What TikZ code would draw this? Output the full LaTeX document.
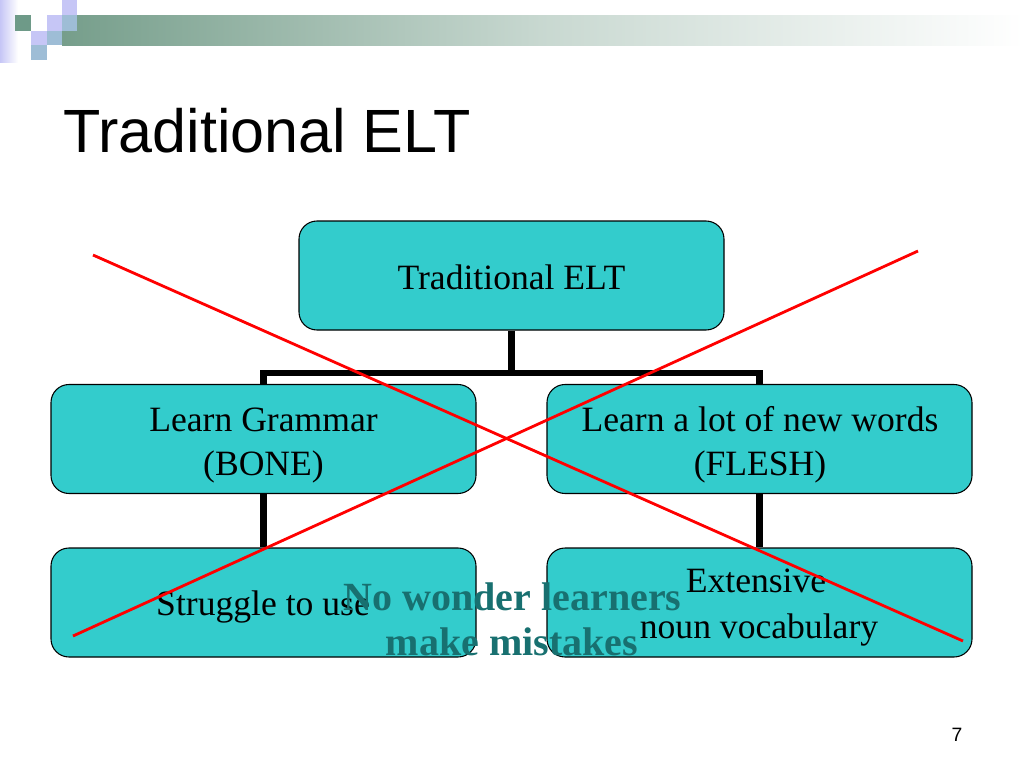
\documentclass[tikz,border=0pt]{standalone}
\usepackage{fontspec}
\setmainfont{Liberation Serif}
\newfontfamily\arialfont{Liberation Sans}
\definecolor{boxfill}{HTML}{33CCCC}
\definecolor{tealtxt}{HTML}{187070}
\definecolor{barG}{HTML}{769E8B}
\definecolor{lav}{HTML}{C6C6F6}
\definecolor{bgrey}{HTML}{9EBDD6}
\definecolor{dgreen}{HTML}{6E9A88}
\begin{document}
\begin{tikzpicture}[x=0.75pt,y=-0.75pt,
  box/.style={draw=black, line width=0.8pt, fill=boxfill, rounded corners=13.5pt,
    minimum width=318.75pt, minimum height=81.75pt, inner sep=0pt},
  txt/.style={font=\fontsize{26.7}{33}\selectfont, anchor=base, inner sep=0pt},
  bigtxt/.style={font=\fontsize{30}{34}\selectfont\bfseries, text=tealtxt, anchor=base, inner sep=0pt},
  conn/.style={line width=4.9pt, black},
  cross/.style={line width=2.1pt, red}]
\useasboundingbox (0,0) rectangle (1024,768);
\fill[white] (0,0) rectangle (1024,768);
% header decoration
\shade[left color=barG, right color=white, middle color=barG!40!white] (62,15) rectangle (1024,45);
\shade[left color=lav, right color=white] (0,0) rectangle (18,62);
\fill[dgreen] (15,15) rectangle (30.5,30.5);
\fill[lav] (62,0) rectangle (77,15);
\fill[lav] (46.5,15) rectangle (62,30.5);
\fill[bgrey] (62,15) rectangle (77,30.5);
\fill[lav] (31,30.5) rectangle (46.5,45);
\fill[bgrey] (46.5,30.5) rectangle (62,45);
\fill[bgrey] (31,45) rectangle (46.5,60);
% title
\node[anchor=base west, inner sep=0pt, font=\arialfont\fontsize{45.8}{54}\selectfont] (title) at (63,152) {Traditional ELT};
% boxes
\node[box] (top) at (511.5,275.5) {};
\node[box] (gram) at (263.5,439) {};
\node[box] (words) at (759.5,439) {};
\node[box] (strug) at (263.5,602.5) {};
\node[box] (ext) at (759.5,602.5) {};
% connectors
\coordinate (bus) at (511.5,373);
\draw[conn] (top.south) -- (bus);
\draw[conn] (gram.north) -- (gram.north |- bus) -- (words.north |- bus) -- (words.north);
\draw[conn] (gram.south) -- (strug.north);
\draw[conn] (words.south) -- (ext.north);
% box texts
\node[txt] (t1) at (511.5,289) {Traditional ELT};
\node[txt] (t2) at (263.5,431) {Learn Grammar};
\node[txt] (t3) at (263.5,475) {(BONE)};
\node[txt] (t4) at (760,431) {Learn a lot of new words};
\node[txt] (t5) at (760,475) {(FLESH)};
\node[txt] (t6) at (263,615) {Struggle to use};
\node[txt] (t7) at (756,592) {Extensive};
\node[txt] (t8) at (759,638) {noun vocabulary};
% red cross
\coordinate (c1a) at (93,255);
\coordinate (c1b) at (963,641);
\coordinate (c2a) at (918,251);
\coordinate (c2b) at (73,636);
\draw[cross] (c1a) -- (c1b);
\draw[cross] (c2a) -- (c2b);
% overlay text
\node[bigtxt] (w1) at (512.5,610) {No wonder learners};
\node[bigtxt] (w2) at (512,655) {make mistakes};
% page number
\node[anchor=base, inner sep=0pt, font=\arialfont\fontsize{14.5}{17}\selectfont] (pg) at (957,741) {7};
\end{tikzpicture}
\end{document}
